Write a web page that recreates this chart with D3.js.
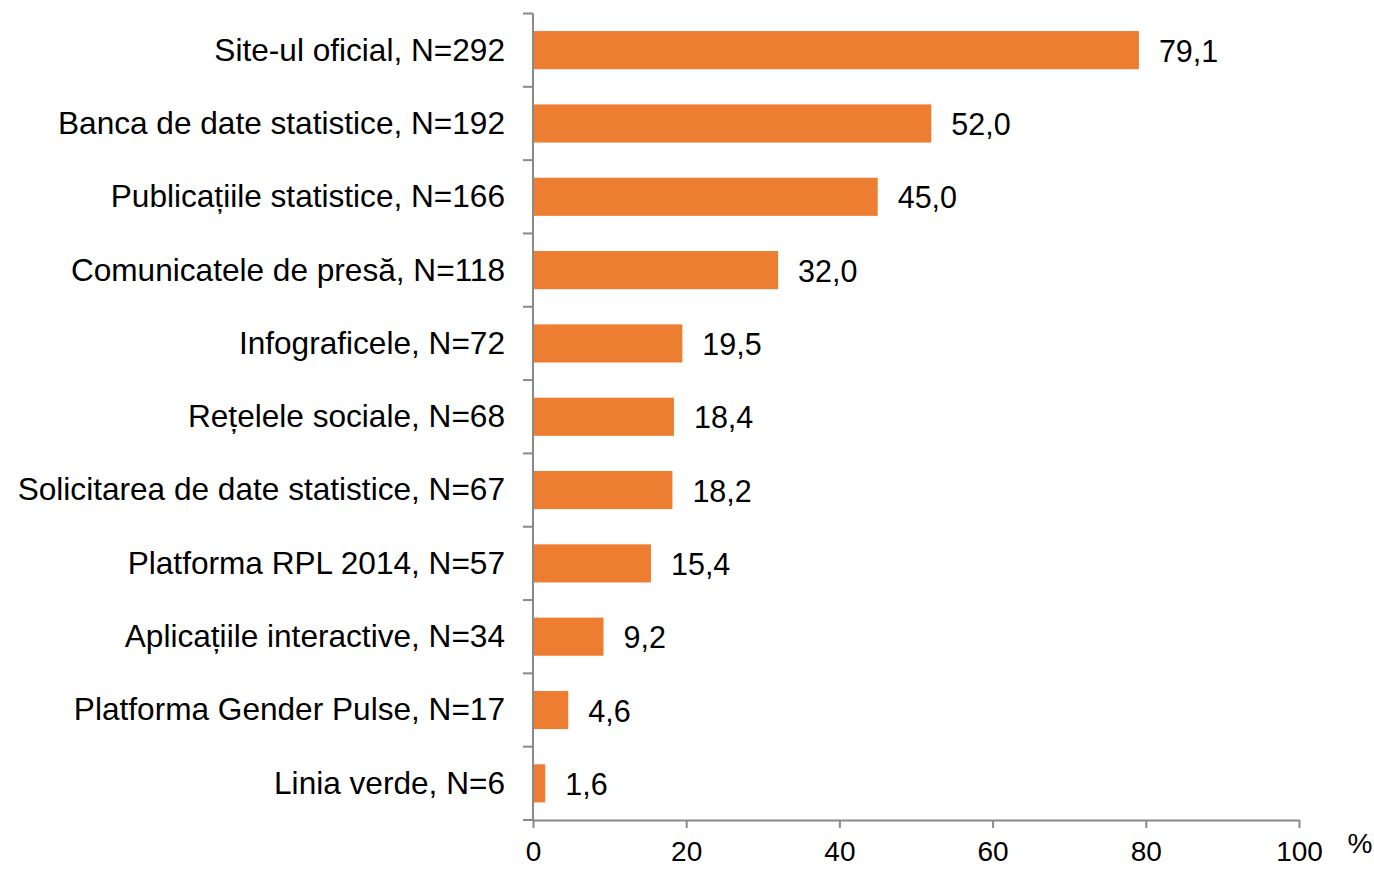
<!DOCTYPE html>
<html>
<head>
<meta charset="utf-8">
<script src="https://cdn.jsdelivr.net/npm/d3@7"></script>
<style>
  body { margin: 0; background: #fff; }
  text { font-family: "Liberation Sans", Arial, sans-serif; fill: #000; }
</style>
</head>
<body>
<div id="vis"></div>
<script>
// chart data
const CATEGORIES = ['Site-ul oficial, N=292', 'Banca de date statistice, N=192',
    'Publicațiile statistice, N=166', 'Comunicatele de presă, N=118',
    'Infograficele, N=72', 'Rețelele sociale, N=68',
    'Solicitarea de date statistice, N=67', 'Platforma RPL 2014, N=57',
    'Aplicațiile interactive, N=34', 'Platforma Gender Pulse, N=17',
    'Linia verde, N=6'];
const VALUES = [79.1, 52.0, 45.0, 32.0, 19.5, 18.4, 18.2, 15.4, 9.2, 4.6, 1.6];
const X_TICKS = [0, 20, 40, 60, 80, 100];

const FRAME_WIDTH = 1374;
const FRAME_HEIGHT = 869;
const MARGINS = {left: 533, right: 75, top: 13.5, bottom: 49};
const AXIS_COLOR = '#898989';

const FRAME = d3.select('#vis')
    .append('svg')
        .attr('width', FRAME_WIDTH)
        .attr('height', FRAME_HEIGHT);

const X_SCALE = d3.scaleLinear()
    .domain([0, 100])
    .range([MARGINS.left, FRAME_WIDTH - MARGINS.right]);

const Y_SCALE = d3.scaleBand()
    .domain(CATEGORIES)
    .range([MARGINS.top, FRAME_HEIGHT - MARGINS.bottom])
    .paddingInner(0.48)
    .paddingOuter(0.24);

const STEP = Y_SCALE.step();
const BAR_H = Y_SCALE.bandwidth();
const Y_BOTTOM = FRAME_HEIGHT - MARGINS.bottom;

// bars
FRAME.selectAll('.bar')
    .data(VALUES)
    .enter()
    .append('rect')
    .attr('class', 'bar')
    .attr('x', X_SCALE(0) + 1)
    .attr('y', (d, i) => Y_SCALE(CATEGORIES[i]))
    .attr('width', (d) => X_SCALE(d) - X_SCALE(0) - 1)
    .attr('height', BAR_H)
    .attr('fill', '#ED7D31');

// value labels
FRAME.selectAll('.val')
    .data(VALUES)
    .enter()
    .append('text')
    .attr('x', (d) => X_SCALE(d) + 20)
    .attr('y', (d, i) => Y_SCALE(CATEGORIES[i]) + BAR_H / 2)
    .attr('dy', '0.38em')
    .attr('font-size', '30.5px')
    .text((d) => d.toFixed(1).replace('.', ','));

// category labels
FRAME.selectAll('.cat')
    .data(CATEGORIES)
    .enter()
    .append('text')
    .attr('x', X_SCALE(0) - 28)
    .attr('y', (d) => Y_SCALE(d) + BAR_H / 2)
    .attr('dy', '0.33em')
    .attr('text-anchor', 'end')
    .attr('font-size', '31.6px')
    .text((d) => d);

// y axis line + ticks on band boundaries
const bounds = CATEGORIES.map((d) => Y_SCALE(d) - Y_SCALE.paddingOuter() * STEP);
bounds.push(Y_BOTTOM);
FRAME.append('line')
    .attr('x1', X_SCALE(0)).attr('x2', X_SCALE(0))
    .attr('y1', MARGINS.top).attr('y2', Y_BOTTOM)
    .attr('stroke', AXIS_COLOR).attr('stroke-width', 2);
FRAME.selectAll('.ytick')
    .data(bounds)
    .enter()
    .append('line')
    .attr('x1', X_SCALE(0) - 10).attr('x2', X_SCALE(0))
    .attr('y1', (d) => d).attr('y2', (d) => d)
    .attr('stroke', AXIS_COLOR).attr('stroke-width', 2);

// x axis
const xAxis = FRAME.append('g')
    .attr('transform', 'translate(0,' + Y_BOTTOM + ')')
    .call(d3.axisBottom(X_SCALE).tickValues(X_TICKS).tickSize(8).tickSizeOuter(0).tickPadding(13));
xAxis.select('.domain').attr('stroke', AXIS_COLOR).attr('stroke-width', 2);
xAxis.selectAll('.tick line').attr('stroke', AXIS_COLOR).attr('stroke-width', 2);
xAxis.selectAll('.tick text')
    .attr('font-size', '28px')
    .attr('font-family', '"Liberation Sans", Arial, sans-serif')
    .attr('fill', '#000');

// unit label
FRAME.append('text')
    .attr('x', X_SCALE(100) + 61)
    .attr('y', Y_BOTTOM + 33)
    .attr('text-anchor', 'middle')
    .attr('font-size', '28px')
    .text('%');
</script>
</body>
</html>
